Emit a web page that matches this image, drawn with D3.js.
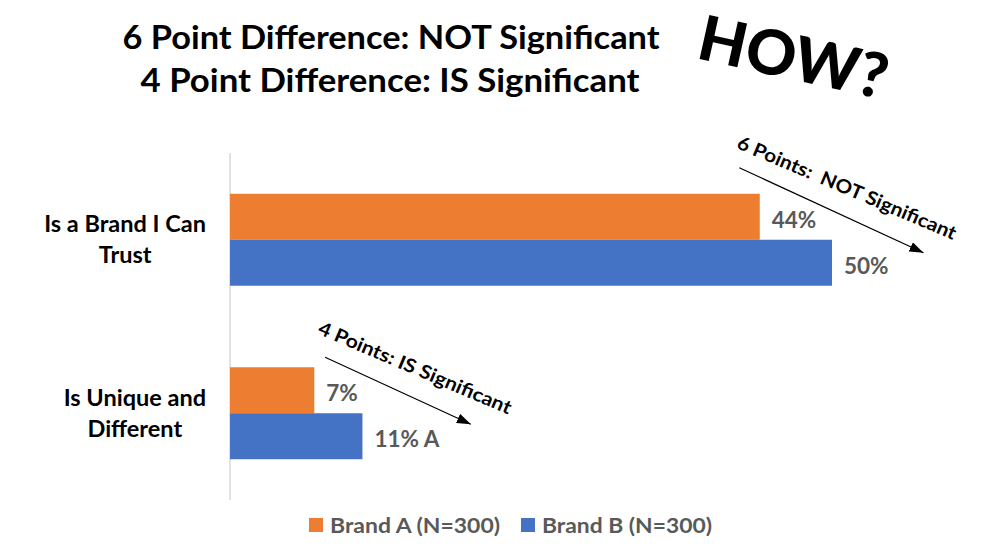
<!DOCTYPE html>
<html>
<head>
<meta charset="utf-8">
<script src="https://cdn.jsdelivr.net/npm/d3@7/dist/d3.min.js"></script>
<style>
  body { margin: 0; background: #fff; }
  svg { display: block; font-family: Lato, "Open Sans", sans-serif; }
</style>
</head>
<body>
<div id="chart"></div>
<script>
// data
var categories = ['Is a Brand I Can Trust', 'Is Unique and Different'];
var categoryLines = [['Is a Brand I Can', 'Trust'], ['Is Unique and', 'Different']];
var seriesNames = ['Brand A (N=300)', 'Brand B (N=300)'];
var brandA = [44, 7];
var brandB = [50, 11];
var sigA = ['', ''];
var sigB = ['', 'A'];
var titleLines = ['6 Point Difference: NOT Significant', '4 Point Difference: IS Significant'];
var notes = ['6 Points:  NOT Significant', '4 Points: IS Significant'];

var colors = ['#ED7D31', '#4472C4'];

var width = 992, height = 557;
var margin = {top: 153, left: 230, bottom: 57};

var svg = d3.select('#chart').append('svg')
  .attr('width', width)
  .attr('height', height);

// scales
var x = d3.scaleLinear()
  .domain([0, 50])
  .range([margin.left, 832]);

var y0 = d3.scaleBand()
  .domain(categories)
  .range([margin.top, height - margin.bottom])
  .paddingInner(0.47)
  .paddingOuter(0.235);

var y1 = d3.scaleBand()
  .domain(seriesNames)
  .range([0, y0.bandwidth()]);

var rows = categories.map(function(c, i) {
  return {
    cat: c,
    lines: categoryLines[i],
    vals: [
      {key: seriesNames[0], value: brandA[i], sig: sigA[i], color: colors[0]},
      {key: seriesNames[1], value: brandB[i], sig: sigB[i], color: colors[1]}
    ]
  };
});

// helper to squeeze text to a measured width
function fit(sel, w) {
  sel.attr('textLength', w).attr('lengthAdjust', 'spacingAndGlyphs');
}

// title
svg.append('text')
  .attr('x', 391).attr('y', 49)
  .attr('text-anchor', 'middle')
  .attr('font-size', 33).attr('font-weight', 'bold')
  .text(titleLines[0])
  .call(fit, 537);
svg.append('text')
  .attr('x', 390).attr('y', 92)
  .attr('text-anchor', 'middle')
  .attr('font-size', 33).attr('font-weight', 'bold')
  .text(titleLines[1])
  .call(fit, 499);

// HOW?
svg.append('text')
  .attr('transform', 'translate(695,58) rotate(12.5)')
  .attr('font-size', 62).attr('font-weight', 900)
  .text('HOW?')
  .call(fit, 192);

// axis line
svg.append('line')
  .attr('x1', x(0)).attr('x2', x(0))
  .attr('y1', margin.top).attr('y2', height - margin.bottom)
  .attr('stroke', '#d9d9d9').attr('stroke-width', 1.5);

// bars
var groups = svg.append('g')
  .selectAll('g')
  .data(rows)
  .enter().append('g')
  .attr('transform', function(d) { return 'translate(0,' + y0(d.cat) + ')'; });

groups.selectAll('rect')
  .data(function(d) { return d.vals; })
  .enter().append('rect')
  .attr('x', x(0))
  .attr('y', function(d) { return y1(d.key); })
  .attr('width', function(d) { return x(d.value) - x(0); })
  .attr('height', y1.bandwidth())
  .attr('fill', function(d) { return d.color; });

groups.selectAll('.val')
  .data(function(d) { return d.vals; })
  .enter().append('text')
  .attr('class', 'val')
  .attr('x', function(d) { return x(d.value) + 12; })
  .attr('y', function(d) { return y1(d.key) + y1.bandwidth() / 2 + 3; })
  .attr('dy', '0.35em')
  .attr('font-size', 22.5).attr('font-weight', 'bold')
  .attr('fill', '#595959')
  .text(function(d) { return d.value + '%' + (d.sig ? ' ' + d.sig : ''); });

// category labels (two lines, centred on each other)
groups.each(function(d) {
  var g = d3.select(this);
  var cy = y0.bandwidth() / 2;
  var t = g.append('text')
    .attr('font-size', 23.5).attr('font-weight', 'bold')
    .attr('text-anchor', 'middle');
  var spans = t.selectAll('tspan')
    .data(d.lines)
    .enter().append('tspan')
    .attr('y', function(l, i) { return cy + (i - 0.5) * 31; })
    .attr('dy', '0.35em')
    .text(function(l) { return l; });
  var w = 0;
  spans.each(function() { w = Math.max(w, this.getComputedTextLength()); });
  spans.attr('x', 206 - w / 2);
});

// annotations: rotated note + arrow
svg.append('defs').append('marker')
  .attr('id', 'arrow')
  .attr('viewBox', '0 0 14 10')
  .attr('refX', 14).attr('refY', 5)
  .attr('markerUnits', 'userSpaceOnUse')
  .attr('markerWidth', 14).attr('markerHeight', 10)
  .attr('orient', 'auto')
  .append('path')
  .attr('d', 'M0,0L14,5L0,10Z')
  .attr('fill', '#000');

var ann = [
  {i: 0, x0: 42.3, x1: 57.6, dy0: -72, dy1: 13, tx: 42, ty: -92, rot: 23, len: 236},
  {i: 1, x0: 7.9, x1: 20.0, dy0: -56, dy1: 11, tx: 7.2, ty: -80, rot: 23, len: 208}
];
ann.forEach(function(a) {
  var cy = y0(categories[a.i]) + y0.bandwidth() / 2;
  svg.append('line')
    .attr('x1', x(a.x0)).attr('y1', cy + a.dy0)
    .attr('x2', x(a.x1)).attr('y2', cy + a.dy1)
    .attr('stroke', '#000').attr('stroke-width', 1.2)
    .attr('marker-end', 'url(#arrow)');
  svg.append('text')
    .attr('transform', 'translate(' + x(a.tx) + ',' + (cy + a.ty) + ') rotate(' + a.rot + ')')
    .attr('font-size', 19).attr('font-weight', 'bold')
    .style('white-space', 'pre')
    .text(notes[a.i])
    .call(fit, a.len);
});

// legend
var legend = svg.append('g')
  .selectAll('g')
  .data(seriesNames)
  .enter().append('g')
  .attr('transform', function(d, i) { return 'translate(' + (309 + i * 212) + ',518)'; });

legend.append('rect')
  .attr('width', 14).attr('height', 14)
  .attr('fill', function(d, i) { return colors[i]; });

legend.append('text')
  .attr('x', 21).attr('y', 7)
  .attr('dy', '0.35em')
  .attr('font-size', 21.5).attr('font-weight', 'bold')
  .attr('fill', '#595959')
  .text(function(d) { return d; })
  .call(fit, 170);
</script>
</body>
</html>
